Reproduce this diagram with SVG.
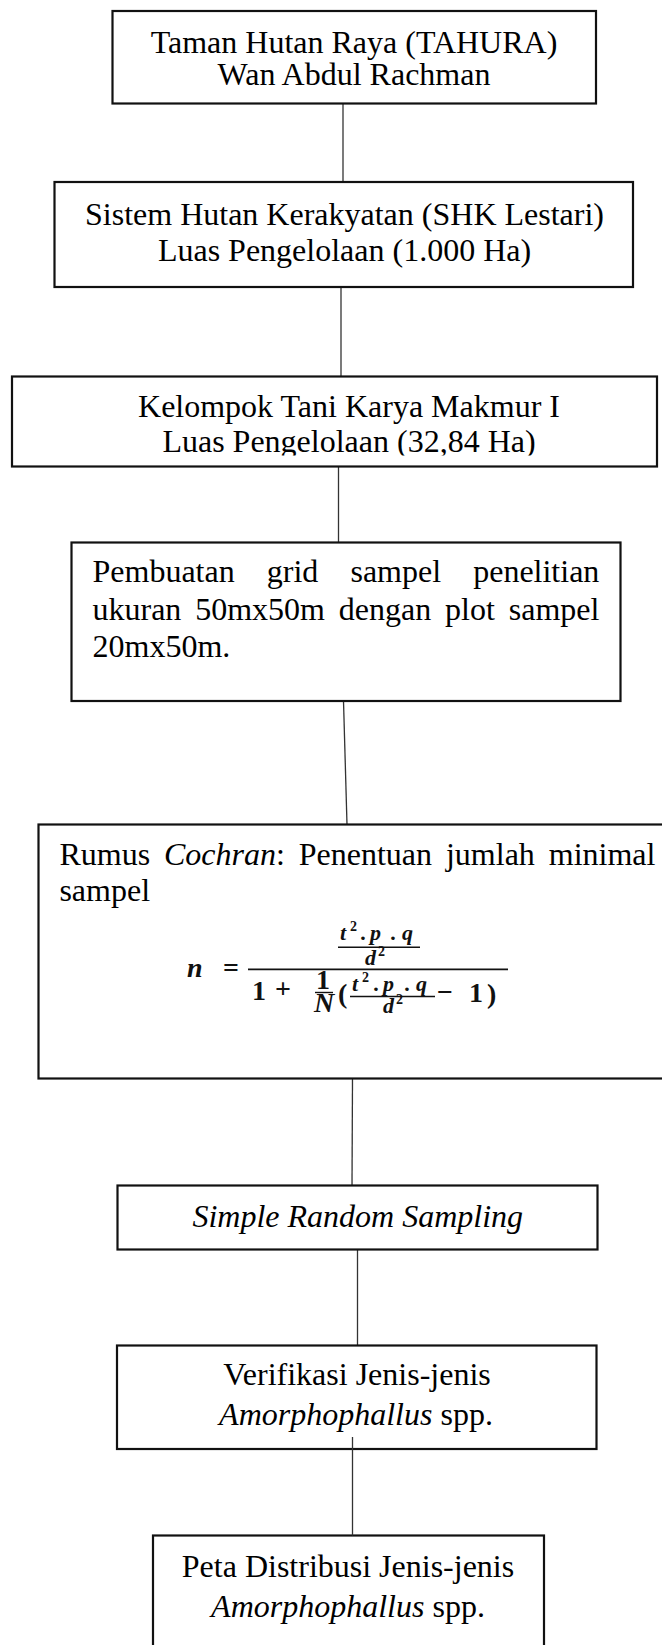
<svg xmlns="http://www.w3.org/2000/svg" width="662" height="1645" viewBox="0 0 662 1645">
<defs>
<style>
.box{fill:#fff;stroke:#111;stroke-width:2.2}
.t{font-family:"Liberation Serif","Times New Roman",serif;font-size:32px;fill:#000}
.c{text-anchor:middle}
.i{font-style:italic}
.conn line{stroke:#333;stroke-width:1.3}
.fm{font-family:"Liberation Serif","Times New Roman",serif;font-weight:bold;font-style:italic;fill:#111;font-size:28px}
.fs{font-size:22px}
.fn{font-family:"Liberation Serif","Times New Roman",serif;font-weight:bold;fill:#111;font-size:28px}
.sup{font-size:14px;font-style:normal}
.bar{stroke:#111}
</style>
<clipPath id="clip3"><rect x="0" y="370" width="662" height="85.5"/></clipPath>
</defs>
<rect width="662" height="1645" fill="#fff"/>

<g id="connectors" class="conn">
<line x1="343" y1="104" x2="343" y2="182"/>
<line x1="341" y1="287" x2="341" y2="376.5"/>
<line x1="338.5" y1="466.5" x2="338.5" y2="542.5"/>
<line x1="343.5" y1="701" x2="347" y2="824.5"/>
<line x1="352.5" y1="1079" x2="352" y2="1185.5"/>
<line x1="357.5" y1="1249.5" x2="357.5" y2="1345.5"/>
</g>

<g id="node1">
<rect class="box" x="112.5" y="11" width="483.5" height="92.5"/>
<text class="t c" x="354" y="53">Taman Hutan Raya (TAHURA)</text>
<text class="t c" x="354" y="85">Wan Abdul Rachman</text>
</g>

<g id="node2">
<rect class="box" x="54.5" y="182" width="578.5" height="105"/>
<text class="t c" x="344.5" y="225">Sistem Hutan Kerakyatan (SHK Lestari)</text>
<text class="t c" x="344.5" y="261">Luas Pengelolaan (1.000 Ha)</text>
</g>

<g id="node3">
<rect class="box" x="12" y="376.5" width="645" height="90"/>
<text class="t c" x="349" y="416.5">Kelompok Tani Karya Makmur I</text>
<text class="t c" x="349" y="451.5" clip-path="url(#clip3)">Luas Pengelolaan (32,84 Ha)</text>
</g>

<g id="node4">
<rect class="box" x="71.5" y="542.5" width="549" height="158.5"/>
<text class="t" x="92.5" y="582" word-spacing="24.1">Pembuatan grid sampel penelitian</text>
<text class="t" x="92.5" y="619.5" word-spacing="5.85">ukuran 50mx50m dengan plot sampel</text>
<text class="t" x="92.5" y="657">20mx50m.</text>
</g>

<g id="node5">
<rect class="box" x="38.5" y="824.5" width="640" height="254"/>
<text class="t" x="59.4" y="865" word-spacing="5.9">Rumus <tspan class="i">Cochran</tspan>: Penentuan jumlah minimal</text>
<text class="t" x="59.4" y="901">sampel</text>
<g id="formula">
<text class="fm" x="187" y="977">n</text>
<text class="fn" x="231" y="977" text-anchor="middle">=</text>
<line class="bar" x1="248" y1="969.3" x2="508" y2="969.3" stroke-width="1.8"/>
<text class="fm fs" y="940"><tspan x="340">t</tspan><tspan class="sup" x="350" y="931">2</tspan><tspan x="361 370 391 402" y="940">.p.q</tspan></text>
<line class="bar" x1="338" y1="947.3" x2="420" y2="947.3" stroke-width="1.5"/>
<text class="fm fs" y="965"><tspan x="365">d</tspan><tspan class="sup" x="378" y="956">2</tspan></text>
<text class="fn" x="252" y="1000">1</text>
<text class="fn" x="283" y="998" text-anchor="middle">+</text>
<text class="fn" x="323" y="989" font-size="20" text-anchor="middle">1</text>
<line class="bar" x1="315" y1="992.5" x2="333" y2="992.5" stroke-width="1.4"/>
<text class="fm" x="324" y="1011.5" font-size="21" text-anchor="middle">N</text>
<text class="fn" x="338" y="1003" font-size="30" font-weight="normal">(</text>
<text class="fm fs" y="991"><tspan x="352">t</tspan><tspan class="sup" x="362" y="982">2</tspan><tspan x="374 383 405 416" y="991">.p.q</tspan></text>
<line class="bar" x1="350" y1="996.5" x2="435" y2="996.5" stroke-width="1.5"/>
<text class="fm fs" y="1013"><tspan x="383">d</tspan><tspan class="sup" x="396" y="1004">2</tspan></text>
<text class="fn" x="437" y="1001">−</text>
<text class="fn" x="469" y="1002">1</text>
<text class="fn" x="487" y="1003" font-size="30">)</text>
</g>
</g>

<g id="node6">
<rect class="box" x="117.5" y="1185.5" width="480" height="64"/>
<text class="t c i" x="357.8" y="1227">Simple Random Sampling</text>
</g>

<g id="node7">
<rect class="box" x="117" y="1345.5" width="479.5" height="103.5"/>
<text class="t c" x="357" y="1385">Verifikasi Jenis-jenis</text>
<text class="t c" x="356" y="1425"><tspan class="i">Amorphophallus</tspan> spp.</text>
</g>

<g id="node8">
<rect class="box" x="153" y="1535.5" width="391" height="130"/>
<text class="t c" x="348" y="1577">Peta Distribusi Jenis-jenis</text>
<text class="t c" x="348" y="1617"><tspan class="i">Amorphophallus</tspan> spp.</text>
</g>

<g id="connectors-over" class="conn">
<line x1="352.5" y1="1437" x2="352.5" y2="1535.5"/>
</g>
</svg>
